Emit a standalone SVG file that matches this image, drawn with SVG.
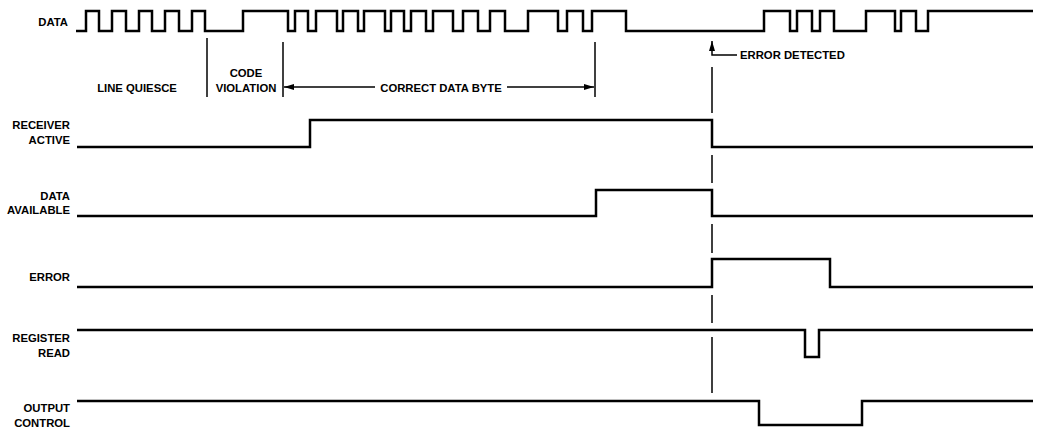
<svg xmlns="http://www.w3.org/2000/svg" width="1039" height="431" viewBox="0 0 1039 431">
<defs>
<style>
.sig{fill:none;stroke:#000;stroke-width:2.5;stroke-linejoin:miter;stroke-linecap:butt}
.mk{fill:none;stroke:#000;stroke-width:1.5}
.lb{font-family:"Liberation Sans","Arial",sans-serif;font-weight:bold;font-size:11.3px;fill:#000}
.r{text-anchor:end}
.m{text-anchor:middle}
</style>
<marker id="ah" viewBox="0 0 10 6" refX="10" refY="3" markerWidth="10" markerHeight="6" markerUnits="userSpaceOnUse" orient="auto"><path d="M0,0 L10,3 L0,6 Z" fill="#000"/></marker>
</defs>
<rect width="1039" height="431" fill="#fff"/>
<g id="data">
<text class="lb r" x="68" y="26">DATA</text>
<path class="sig" d="M76,31 H86 V11 H99 V31 H112 V11 H126 V31 H139 V11 H152 V31 H165 V11 H179 V31 H192 V11 H205 V31 H243 V11 H288 V31 H295 V11 H308 V31 H316 V11 H337 V31 H343 V11 H358 V31 H364 V11 H385 V31 H391 V11 H404 V31 H411 V11 H426 V31 H433 V11 H453 V31 H463 V11 H478 V31 H490 V11 H505 V31 H528 V11 H558 V31 H567 V11 H583 V31 H592 V11 H626 V31 H764 V11 H790 V31 H797 V11 H812 V31 H820 V11 H834 V31 H866 V11 H895 V31 H901 V11 H916 V31 H928 V11 H1033"/>
</g>
<g id="receiver-active">
<text class="lb r" x="70" y="129">RECEIVER</text>
<text class="lb r" x="70" y="144">ACTIVE</text>
<path class="sig" d="M77,147 H310 V120 H712 V147 H1033"/>
</g>
<g id="data-available">
<text class="lb r" x="70" y="200">DATA</text>
<text class="lb r" x="70" y="214">AVAILABLE</text>
<path class="sig" d="M77,216 H596 V190 H712 V216 H1033"/>
</g>
<g id="error">
<text class="lb r" x="70" y="281">ERROR</text>
<path class="sig" d="M77,287 H712 V259 H830 V287 H1033"/>
</g>
<g id="register-read">
<text class="lb r" x="70" y="342">REGISTER</text>
<text class="lb r" x="70" y="357">READ</text>
<path class="sig" d="M77,330 H805 V357 H819 V330 H1033"/>
</g>
<g id="output-control">
<text class="lb r" x="70" y="412">OUTPUT</text>
<text class="lb r" x="70" y="427">CONTROL</text>
<path class="sig" d="M77,401 H759 V425 H862 V401 H1033"/>
</g>
<g id="annotations">
<text class="lb m" x="137" y="92">LINE QUIESCE</text>
<text class="lb m" x="246" y="77">CODE</text>
<text class="lb m" x="246" y="92">VIOLATION</text>
<text class="lb m" x="441" y="92">CORRECT DATA BYTE</text>
<text class="lb" x="740" y="59">ERROR DETECTED</text>
</g>
<g id="connectors">
<line class="mk" x1="207" y1="38" x2="207" y2="97"/>
<line class="mk" x1="283" y1="42" x2="283" y2="97"/>
<line class="mk" x1="595" y1="42" x2="595" y2="97"/>
<line class="mk" x1="375" y1="87" x2="284" y2="87" marker-end="url(#ah)"/>
<line class="mk" x1="507" y1="87" x2="594" y2="87" marker-end="url(#ah)"/>
<path class="mk" d="M737,55 H712 V41" marker-end="url(#ah)"/>
<path class="mk" d="M712,67 V113 M712,155 V183 M712,224 V253 M712,295 V323 M712,337 V393"/>
</g>
</svg>
